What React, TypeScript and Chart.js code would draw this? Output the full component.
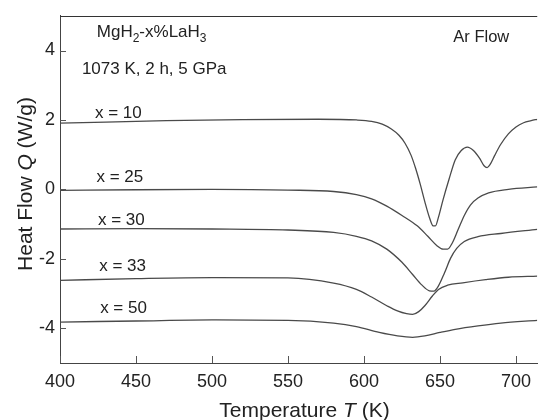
import React, { useEffect, useRef } from "react";
import { Chart, registerables } from "chart.js";

Chart.register(...registerables);

// ---- data ----
const X_TICKS = [400, 450, 500, 550, 600, 650, 700];
const Y_TICKS = [-4, -2, 0, 2, 4];
const SERIES_NAMES = ["x = 10", "x = 25", "x = 30", "x = 33", "x = 50"];

const T_X10 = [400, 430, 470, 520, 570, 595, 605, 612, 618, 623, 627, 631, 634, 637, 640, 643, 645.5, 647, 649, 652, 656, 660, 664, 668, 672, 676, 679, 681, 683, 686, 690, 695, 700, 705, 710, 714];
const Q_X10 = [1.91, 1.94, 1.98, 2.01, 2.02, 2.0, 1.96, 1.88, 1.74, 1.56, 1.33, 0.98, 0.6, 0.15, -0.35, -0.8, -1.05, -1.05, -0.8, -0.3, 0.3, 0.85, 1.12, 1.22, 1.12, 0.9, 0.68, 0.63, 0.72, 0.98, 1.3, 1.6, 1.8, 1.92, 1.98, 2.02];

const T_X25 = [400, 450, 500, 550, 580, 595, 605, 615, 625, 635, 642, 648, 652, 655, 658, 662, 666, 670, 675, 682, 695, 714];
const Q_X25 = [-0.03, -0.01, 0.0, -0.02, -0.06, -0.15, -0.27, -0.48, -0.75, -1.05, -1.35, -1.62, -1.72, -1.72, -1.55, -1.15, -0.75, -0.45, -0.25, -0.1, 0.0, 0.07];

const T_X30 = [400, 450, 500, 550, 580, 595, 605, 615, 625, 632, 638, 643, 646, 649, 653, 657, 661, 666, 675, 690, 714];
const Q_X30 = [-1.14, -1.13, -1.14, -1.17, -1.24, -1.35, -1.48, -1.72, -2.1, -2.45, -2.75, -2.92, -2.93, -2.78, -2.4, -1.98, -1.7, -1.5, -1.36, -1.27, -1.15];

const T_X33 = [400, 450, 500, 550, 580, 595, 605, 615, 622, 628, 632, 636, 640, 645, 649, 655, 665, 680, 695, 714];
const Q_X33 = [-2.62, -2.57, -2.54, -2.55, -2.7, -2.88, -3.1, -3.35, -3.5, -3.58, -3.6, -3.52, -3.35, -3.07, -2.88, -2.76, -2.69, -2.6, -2.53, -2.5];

const T_X50 = [400, 450, 500, 550, 580, 595, 610, 622, 632, 640, 650, 660, 675, 690, 714];
const Q_X50 = [-3.82, -3.79, -3.76, -3.77, -3.85, -3.95, -4.12, -4.22, -4.26, -4.22, -4.12, -4.03, -3.93, -3.85, -3.77];

const SERIES_T = [T_X10, T_X25, T_X30, T_X33, T_X50];
const SERIES_Q = [Q_X10, Q_X25, Q_X30, Q_X33, Q_X50];

const FONT = '"Liberation Sans", Arial, Helvetica, sans-serif';
const LINE_COLOR = "#4a4a4a";
const TEXT_COLOR = "#222";

// label anchors (data units)
const LABEL_POS = [
  [423, 2.05],
  [424, 0.2],
  [425, -1.02],
  [425.8, -2.36],
  [426.4, -3.56],
];

const decorPlugin = {
  id: "decor",
  afterDraw(chart: any) {
    const ctx = chart.ctx as CanvasRenderingContext2D;
    const xs = chart.scales.x;
    const ys = chart.scales.y;
    const area = chart.chartArea;
    ctx.save();
    // top border
    ctx.strokeStyle = "#333";
    ctx.lineWidth = 1;
    ctx.beginPath();
    ctx.moveTo(area.left, Math.round(area.top) + 0.5);
    ctx.lineTo(area.right, Math.round(area.top) + 0.5);
    ctx.stroke();
    // inside tick marks
    ctx.strokeStyle = "#555";
    ctx.beginPath();
    X_TICKS.forEach((v) => {
      const px = Math.round(xs.getPixelForValue(v)) + 0.5;
      ctx.moveTo(px, area.bottom);
      ctx.lineTo(px, area.bottom - 7);
    });
    Y_TICKS.forEach((v) => {
      const py = Math.round(ys.getPixelForValue(v)) + 0.5;
      ctx.moveTo(area.left, py);
      ctx.lineTo(area.left + 6, py);
    });
    ctx.stroke();

    ctx.fillStyle = TEXT_COLOR;
    ctx.textBaseline = "alphabetic";
    ctx.textAlign = "left";

    // series labels
    ctx.font = `17px ${FONT}`;
    SERIES_NAMES.forEach((name, i) => {
      const [t, q] = LABEL_POS[i];
      ctx.fillText(name, xs.getPixelForValue(t), ys.getPixelForValue(q));
    });

    // composition annotation with subscripts
    const drawRich = (parts: [string, string, number][], x: number, y: number) => {
      let cx = x;
      parts.forEach(([txt, font, dy]) => {
        ctx.font = font;
        ctx.fillText(txt, cx, y + dy);
        cx += ctx.measureText(txt).width;
      });
    };
    const main = `17px ${FONT}`;
    const sub = `12px ${FONT}`;
    drawRich(
      [
        ["MgH", main, 0],
        ["2", sub, 5],
        ["-x%LaH", main, 0],
        ["3", sub, 5],
      ],
      xs.getPixelForValue(424.2),
      ys.getPixelForValue(4.39)
    );
    ctx.font = main;
    ctx.fillText("1073 K, 2 h, 5 GPa", xs.getPixelForValue(414.4), ys.getPixelForValue(3.33));
    ctx.font = `16.5px ${FONT}`;
    ctx.fillText("Ar Flow", xs.getPixelForValue(658.8), ys.getPixelForValue(4.25));

    // axis titles
    const title = `21px ${FONT}`;
    const titleIt = `italic 21px ${FONT}`;
    const measureParts = (parts: [string, string][]) => {
      let w = 0;
      parts.forEach(([t, f]) => {
        ctx.font = f;
        w += ctx.measureText(t).width;
      });
      return w;
    };
    const xParts: [string, string][] = [
      ["Temperature ", title],
      ["T", titleIt],
      [" (K)", title],
    ];
    const xw = measureParts(xParts);
    let cx = 304.5 - xw / 2;
    xParts.forEach(([t, f]) => {
      ctx.font = f;
      ctx.fillText(t, cx, 417);
      cx += ctx.measureText(t).width;
    });

    const yParts: [string, string][] = [
      ["Heat Flow ", title],
      ["Q", titleIt],
      [" (W/g)", title],
    ];
    const yw = measureParts(yParts);
    ctx.translate(32, 184);
    ctx.rotate(-Math.PI / 2);
    let cy = -yw / 2;
    yParts.forEach(([t, f]) => {
      ctx.font = f;
      ctx.fillText(t, cy, 0);
      cy += ctx.measureText(t).width;
    });
    ctx.restore();
  },
};

export default function App() {
  const ref = useRef<HTMLCanvasElement | null>(null);
  useEffect(() => {
    if (!ref.current) return;
    const datasets = SERIES_NAMES.map((name, i) => ({
      label: name,
      data: SERIES_T[i].map((t, j) => ({ x: t, y: SERIES_Q[i][j] })),
      borderColor: LINE_COLOR,
      borderWidth: 1.3,
      pointRadius: 0,
      fill: false,
      cubicInterpolationMode: "monotone" as const,
    }));
    const chart = new Chart(ref.current, {
      type: "line",
      data: { datasets },
      options: {
        responsive: false,
        animation: false,
        devicePixelRatio: 1,
        layout: { padding: { top: 12, left: 0, right: 0, bottom: 0 } },
        plugins: { legend: { display: false }, tooltip: { enabled: false } },
        scales: {
          x: {
            type: "linear",
            min: 400,
            max: 714,
            afterBuildTicks: (s: any) => {
              s.ticks = X_TICKS.map((v) => ({ value: v }));
            },
            afterFit: (s: any) => {
              s.height = 57;
            },
            grid: { display: false, drawTicks: false },
            border: { display: true, color: "#444", width: 1 },
            ticks: {
              padding: 8,
              color: TEXT_COLOR,
              font: { family: FONT, size: 18 },
              maxRotation: 0,
            },
          },
          y: {
            type: "linear",
            min: -5,
            max: 5,
            afterBuildTicks: (s: any) => {
              s.ticks = Y_TICKS.map((v) => ({ value: v }));
            },
            afterFit: (s: any) => {
              s.width = 60;
            },
            grid: { display: false, drawTicks: false },
            border: { display: true, color: "#444", width: 1 },
            ticks: {
              padding: 5,
              color: TEXT_COLOR,
              font: { family: FONT, size: 18 },
            },
          },
        },
      },
      plugins: [decorPlugin],
    });
    return () => chart.destroy();
  }, []);
  return (
    <div style={{ position: "fixed", left: 0, top: 0, width: 539, height: 420, background: "#fff" }}>
      <canvas ref={ref} width={539} height={420} />
    </div>
  );
}
